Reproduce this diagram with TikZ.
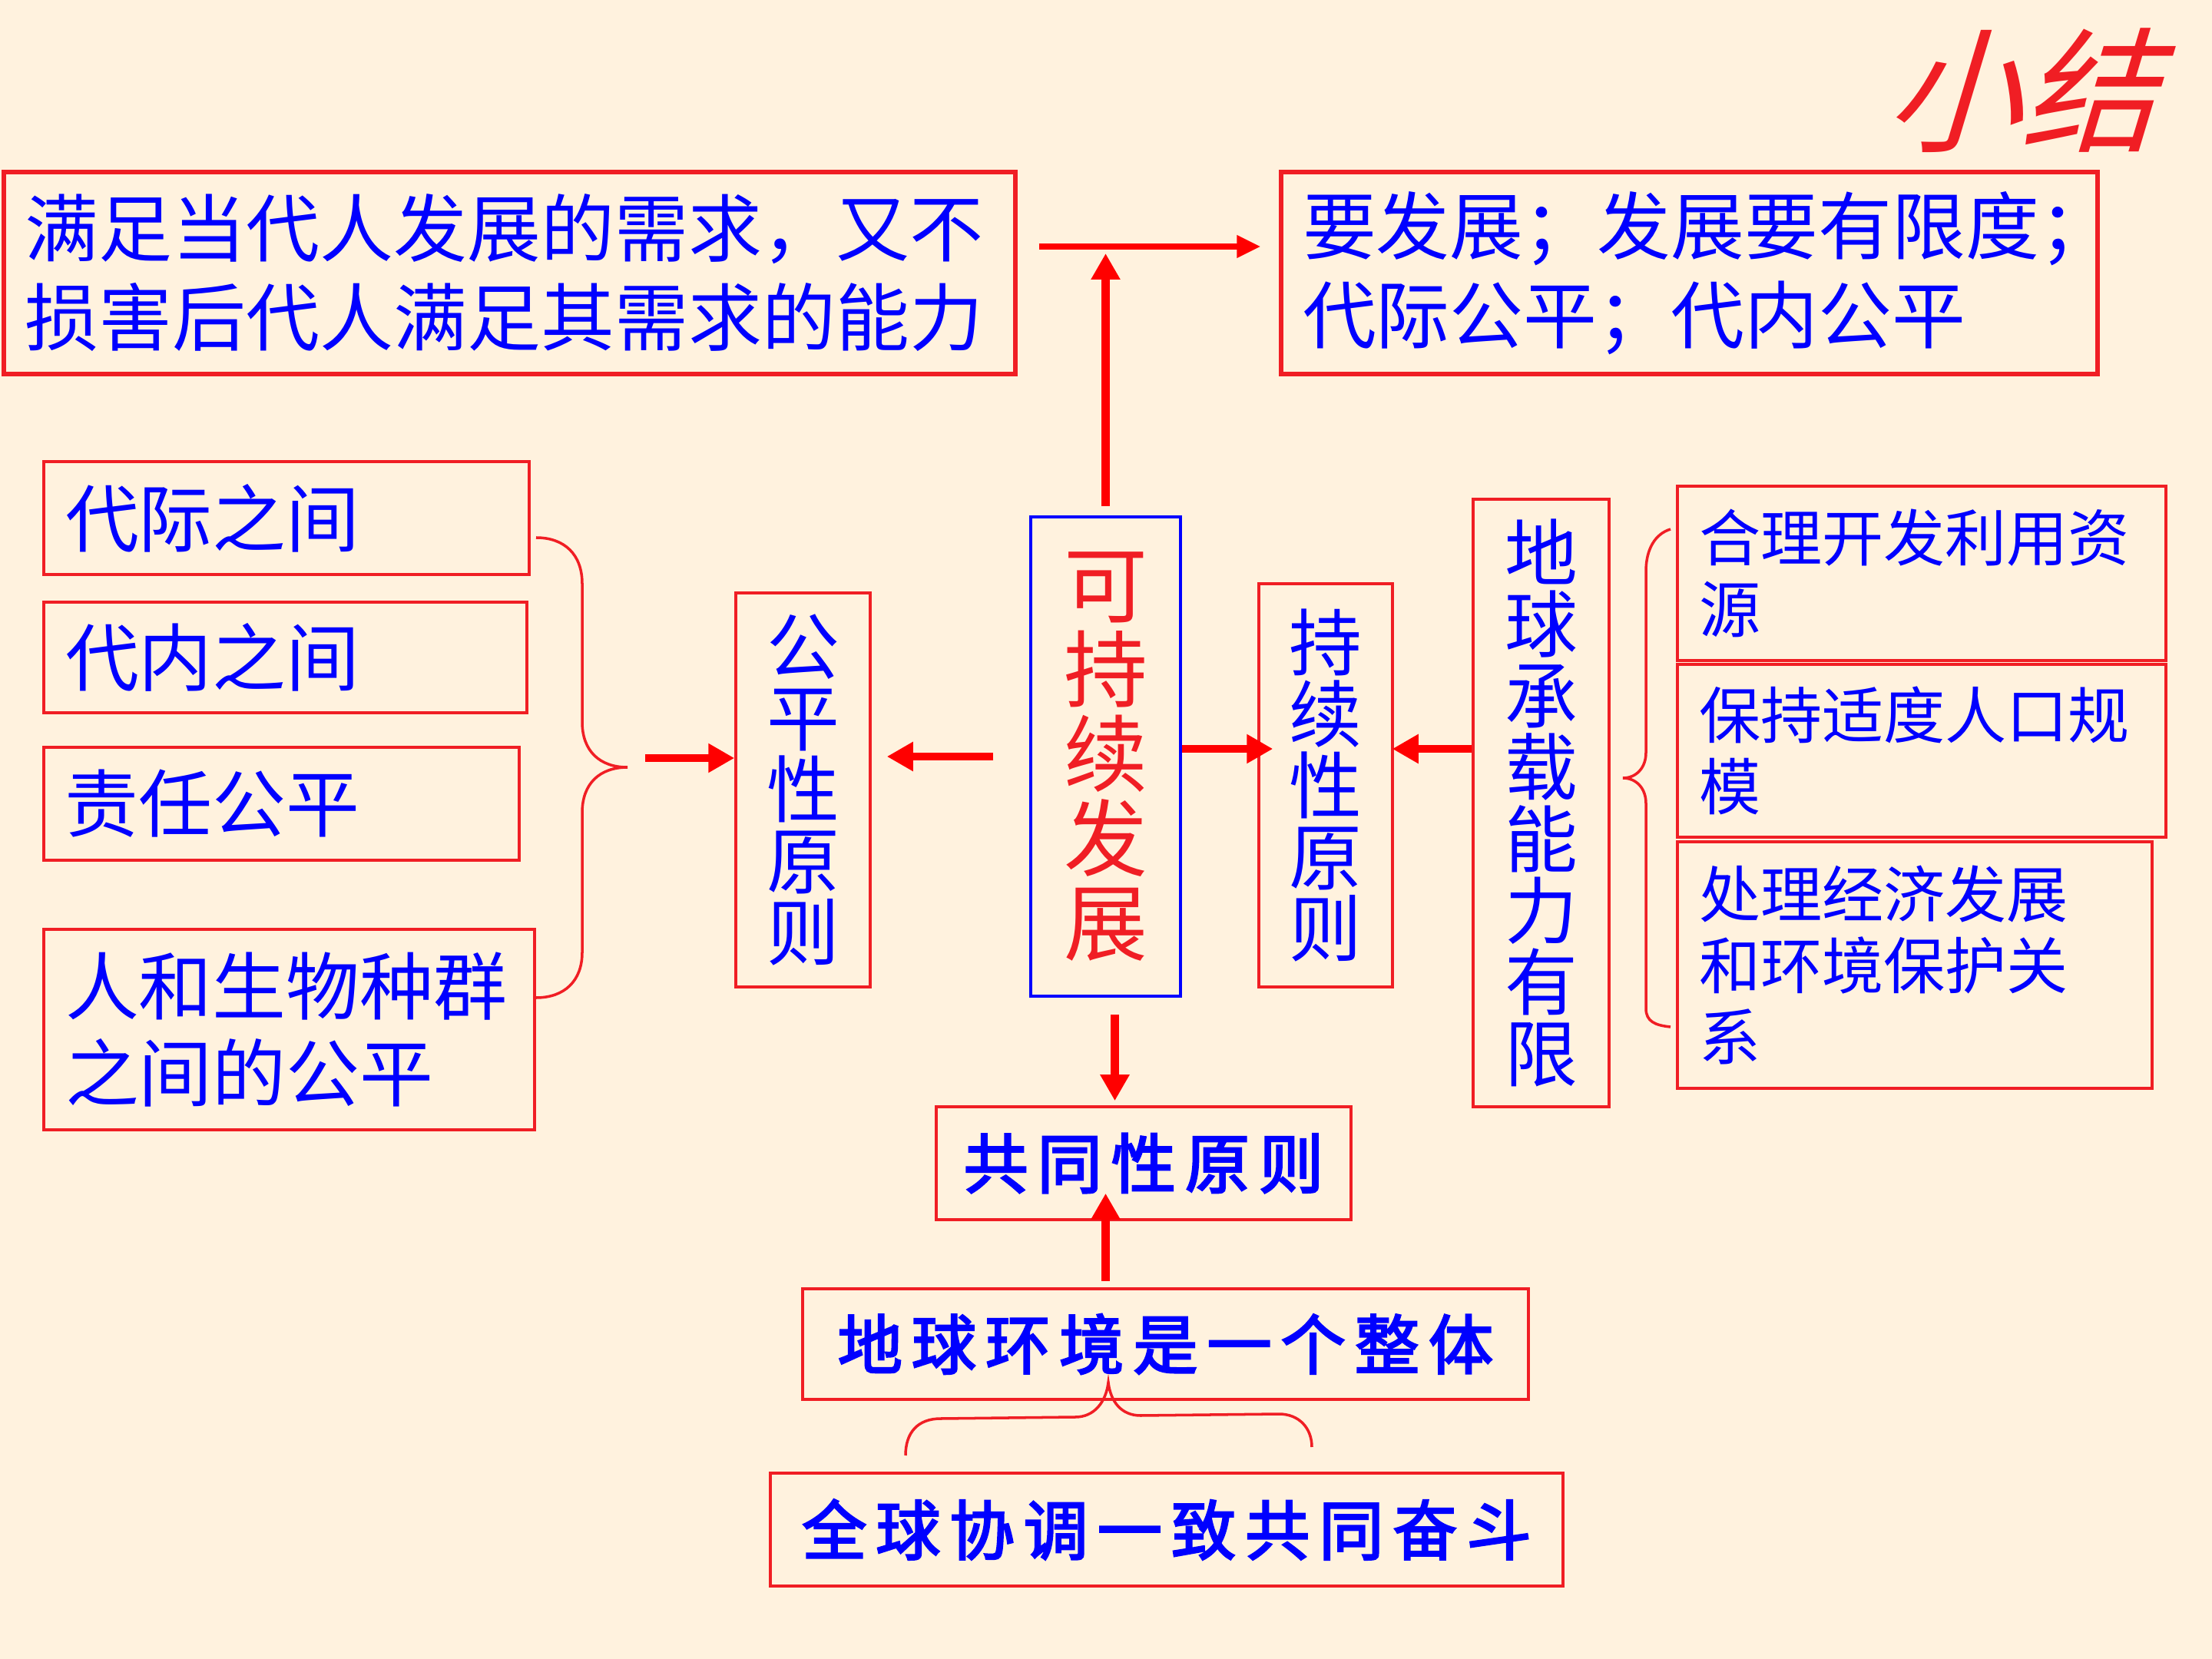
\documentclass[tikz,border=0pt]{standalone}
\usepackage{fontspec}
\usepackage{tikz}
\usetikzlibrary{arrows.meta}

\newfontfamily\cjk{Noto Sans CJK SC}
\newfontfamily\cjkbrush[FakeBold=3,LetterSpace=14]{Noto Sans CJK SC}
\newfontfamily\cjkslant[FakeSlant=0.3]{Noto Sans CJK SC}

\definecolor{bgcream}{RGB}{255,242,222}
\definecolor{lnred}{RGB}{240,30,36}
\definecolor{arred}{RGB}{255,0,0}
\definecolor{txtblue}{RGB}{0,0,255}

\newcommand{\bigtxt}{\fontsize{27.3pt}{33pt}\cjk\lineskiplimit=-10pt\relax}
\newcommand{\midtxt}{\fontsize{22.8pt}{26.5pt}\cjk\lineskiplimit=-10pt\relax}
\newcommand{\coltxt}{\fontsize{27pt}{26.5pt}\cjk\lineskiplimit=-10pt\relax}
\newcommand{\keytxt}{\fontsize{31pt}{31.3pt}\cjk\lineskiplimit=-10pt\relax}
\newcommand{\brushtxt}{\fontsize{24pt}{28pt}\cjkbrush}
\newcommand{\titletxt}{\fontsize{50pt}{56pt}\cjkslant}

\begin{document}
\begin{tikzpicture}[
  box/.style={draw=lnred, line width=1pt, text=txtblue, align=left, inner xsep=2.8mm, inner ysep=0pt},
  vbox/.style={draw=lnred, line width=1pt, text=txtblue, align=center, inner sep=0pt},
  brushbox/.style={draw=lnred, line width=1pt, text=txtblue, align=center, inner sep=0pt, font=\brushtxt},
  arr/.style={draw=arred, line width=3pt, -{Triangle[length=3.4mm,width=3.6mm]}},
  brace/.style={draw=lnred, line width=1pt}
]
\fill[bgcream] (0,0) rectangle (28.8,-21.6);
\useasboundingbox (0,0) rectangle (28.8,-21.6);

% title
\node[text=lnred, font=\titletxt] (title) at (26.3,-1.18) {小结};

% top row
\node[box, line width=1.5pt, font=\bigtxt, text width=12.61cm, minimum height=2.63cm] (need) at (6.635,-3.555)
  {满足当代人发展的需求，又不\\损害后代人满足其需求的能力};
\node[box, line width=1.5pt, font=\bigtxt, text width=10.07cm, minimum height=2.63cm] (goal) at (21.995,-3.555)
  {要发展；发展要有限度；\\代际公平；代内公平};

% left column
\node[box, font=\bigtxt, text width=5.76cm, minimum height=1.47cm] (inter) at (3.73,-6.745) {代际之间};
\node[box, font=\bigtxt, text width=5.73cm, minimum height=1.44cm] (intra) at (3.715,-8.56) {代内之间};
\node[box, font=\bigtxt, text width=5.63cm, minimum height=1.47cm] (resp) at (3.665,-10.465) {责任公平};
\node[box, font={\fontsize{27.3pt}{32pt}\cjk}, text width=5.83cm, minimum height=2.61cm] (species) at (3.765,-13.405)
  {人和生物种群\\之间的公平};

% middle columns
\node[vbox, font=\coltxt, minimum width=1.75cm, minimum height=5.13cm] (fair) at (10.455,-10.285)
  {公\\平\\性\\原\\则};
\node[vbox, draw=txtblue, text=lnred, font=\keytxt, minimum width=1.95cm, minimum height=6.24cm] (sd) at (14.395,-9.85)
  {可\\持\\续\\发\\展};
\node[vbox, font=\coltxt, minimum width=1.74cm, minimum height=5.25cm] (cont) at (17.26,-10.225)
  {持\\续\\性\\原\\则};
\node[vbox, font=\coltxt, minimum width=1.77cm, minimum height=7.91cm] (earth) at (20.065,-10.455)
  {地\\球\\承\\载\\能\\力\\有\\限};

% right column
\node[box, font=\midtxt, text width=5.80cm, minimum height=2.27cm] (res) at (25.02,-7.465)
  {合理开发利用资\\源};
\node[box, font=\midtxt, text width=5.80cm, minimum height=2.25cm] (pop) at (25.02,-9.775)
  {保持适度人口规\\模};
\node[box, font=\midtxt, text width=5.62cm, minimum height=3.21cm] (econ) at (24.93,-12.565)
  {处理经济发展\\和环境保护关\\系};

% bottom
\node[brushbox, minimum width=5.40cm, minimum height=1.47cm] (com) at (14.89,-15.145) {共同性原则};
\node[brushbox, minimum width=9.45cm, minimum height=1.44cm] (env) at (15.175,-17.50) {地球环境是一个整体};
\node[brushbox, minimum width=10.32cm, minimum height=1.47cm] (glob) at (15.19,-19.915) {全球协调一致共同奋斗};

% braces
\coordinate (ltip) at (8.17,-9.99);
\draw[brace] (6.98,-7.00) .. controls (7.35,-7.00) and (7.58,-7.22) .. (7.58,-7.60) -- (7.58,-9.40)
  .. controls (7.58,-9.78) and (7.81,-9.99) .. (ltip)
  .. controls (7.81,-9.99) and (7.58,-10.20) .. (7.58,-10.58) -- (7.58,-12.40)
  .. controls (7.58,-12.77) and (7.35,-12.99) .. (6.98,-12.99);
\coordinate (rtip) at (21.13,-10.13);
\draw[brace] (21.75,-6.89) .. controls (21.55,-6.95) and (21.43,-7.15) .. (21.43,-7.44) -- (21.43,-9.80)
  .. controls (21.43,-10.00) and (21.30,-10.13) .. (rtip)
  .. controls (21.30,-10.13) and (21.43,-10.26) .. (21.43,-10.46) -- (21.43,-13.13)
  .. controls (21.43,-13.30) and (21.55,-13.35) .. (21.75,-13.37);
\coordinate (btip) at (14.43,-18.00);
\draw[brace] (11.79,-18.95) .. controls (11.79,-18.65) and (11.95,-18.47) .. (12.25,-18.47) -- (14.00,-18.45)
  .. controls (14.25,-18.45) and (14.40,-18.25) .. (btip)
  .. controls (14.46,-18.25) and (14.60,-18.43) .. (14.85,-18.43) -- (16.65,-18.41)
  .. controls (16.92,-18.41) and (17.08,-18.60) .. (17.08,-18.84);

% arrows
\coordinate (join) at ([yshift=3.45mm]need.east -| sd.north);
\draw[draw=arred, line width=2pt, -{Triangle[length=3.1mm,width=2.8mm]}, shorten <=2.8mm, shorten >=2.4mm]
  ([yshift=3.45mm]need.east) -- ([yshift=3.45mm]goal.west);
\draw[arr, shorten <=1.2mm, shorten >=0.9mm] (sd.north) -- (join);
\draw[arr, shorten <=4.7mm, shorten >=2mm] (sd.west) -- (sd.west -| fair.east);
\draw[arr, shorten <=2.3mm] ([yshift=1.2mm]ltip) -- ([yshift=1.2mm]ltip -| fair.west);
\draw[arr, shorten >=-2mm] ([yshift=1mm]sd.east) -- ([yshift=1mm]sd.east -| cont.west);
\draw[arr, shorten >=-0.2mm] ([yshift=1mm]sd.east -| earth.west) -- ([yshift=1mm]sd.east -| cont.east);
\draw[arr, shorten <=2.2mm, shorten >=0.6mm] ([xshift=1.2mm]sd.south) -- ([xshift=1.2mm]sd.south |- com.north);
\draw[arr, shorten <=0.8mm, shorten >=-3.6mm] (sd.south |- env.north) -- (sd.south |- com.south);

\end{tikzpicture}
\end{document}
